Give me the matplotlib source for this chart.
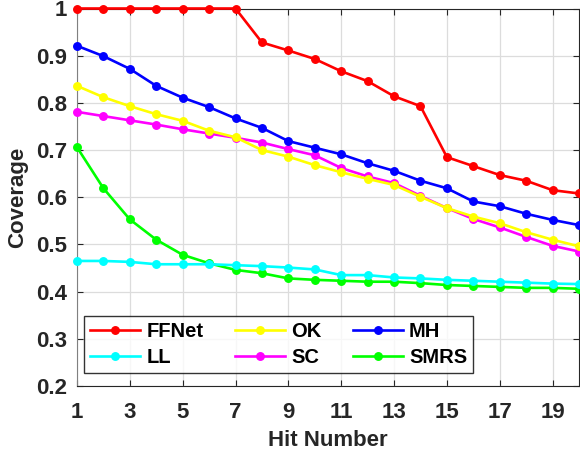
import matplotlib
matplotlib.use("Agg")
import matplotlib.pyplot as plt

plt.rcParams['font.family'] = ['Liberation Sans', 'DejaVu Sans']

hits = list(range(1, 21))
ffnet = [1.0, 1.0, 1.0, 1.0, 1.0, 1.0, 1.0, 0.928, 0.911, 0.893,
         0.867, 0.846, 0.814, 0.793, 0.685, 0.666, 0.647, 0.635, 0.615, 0.608]
ok = [0.836, 0.812, 0.793, 0.776, 0.762, 0.741, 0.727, 0.700, 0.686, 0.668,
      0.653, 0.639, 0.626, 0.601, 0.577, 0.559, 0.545, 0.526, 0.510, 0.496]
mh = [0.921, 0.899, 0.872, 0.836, 0.811, 0.791, 0.767, 0.747, 0.719, 0.705,
      0.691, 0.672, 0.656, 0.635, 0.619, 0.591, 0.581, 0.565, 0.552, 0.541]
ll = [0.465, 0.465, 0.463, 0.458, 0.458, 0.458, 0.456, 0.454, 0.451, 0.447,
      0.435, 0.435, 0.430, 0.428, 0.425, 0.423, 0.421, 0.419, 0.417, 0.416]
sc = [0.781, 0.772, 0.763, 0.754, 0.744, 0.735, 0.726, 0.716, 0.702, 0.689,
      0.662, 0.644, 0.630, 0.603, 0.577, 0.554, 0.536, 0.516, 0.497, 0.485]
smrs = [0.706, 0.619, 0.553, 0.510, 0.478, 0.460, 0.446, 0.439, 0.428, 0.425,
        0.423, 0.421, 0.421, 0.418, 0.414, 0.412, 0.410, 0.408, 0.408, 0.406]

series = [("FFNet", ffnet, "#FF0000"), ("LL", ll, "#00FFFF"),
          ("OK", ok, "#FFFF00"), ("SC", sc, "#FF00FF"),
          ("MH", mh, "#0000FF"), ("SMRS", smrs, "#00FF00")]
draw_order = ["SMRS", "LL", "SC", "OK", "MH", "FFNet"]

xticks = [1, 3, 5, 7, 9, 11, 13, 15, 17, 19]
yticks = [0.2, 0.3, 0.4, 0.5, 0.6, 0.7, 0.8, 0.9, 1.0]
ytick_labels = ["0.2", "0.3", "0.4", "0.5", "0.6", "0.7", "0.8", "0.9", "1"]

fig = plt.figure(figsize=(5.8, 4.57), dpi=100)
ax = fig.add_axes([77 / 580, 1 - 386 / 457, 502 / 580, (386 - 8.5) / 457])

lines = {}
for name, vals, col in series:
    z = 3 + draw_order.index(name) * 0.1
    ln, = ax.plot(hits, vals, color=col, lw=1.9, marker='o', ms=5.4,
                  label=name, zorder=z, clip_on=False)
    lines[name] = ln

ax.set_xlim(1, 20)
ax.set_ylim(0.2, 1.0)
ax.set_xticks(xticks)
ax.set_xticklabels([str(t) for t in xticks])
ax.set_yticks(yticks)
ax.set_yticklabels(ytick_labels)

ax.grid(True, color='#dcdcdc', lw=0.9, zorder=0)
ax.set_axisbelow(True)
ax.tick_params(direction='in', length=4, width=0.8, top=True, right=True,
               labelsize=16, colors='#262626')
ax.tick_params(axis='x', pad=11.5)
ax.tick_params(axis='y', pad=7)
for lab in ax.get_xticklabels() + ax.get_yticklabels():
    lab.set_fontweight('bold')
for s in ax.spines.values():
    s.set_color('#262626')
    s.set_linewidth(0.8)
ax.spines['left'].set_color('#808080')

ax.set_xlabel("Hit Number", fontsize=16, fontweight='bold', color='#262626', labelpad=5)
ax.set_ylabel("Coverage", fontsize=16, fontweight='bold', color='#262626', labelpad=6)

leg = ax.legend(handles=[lines[n] for n, _, _ in series], ncol=3,
                loc='lower left', bbox_to_anchor=(0.014, 0.034, 0.775, 0.151),
                mode='expand', prop={'weight': 'bold', 'size': 14.5},
                handlelength=2.5, handletextpad=0.3, borderpad=0.3,
                labelspacing=0.35, columnspacing=1.0, frameon=True, fancybox=False,
                borderaxespad=0)
leg.get_frame().set_edgecolor('black')
leg.get_frame().set_linewidth(1.0)
leg.set_zorder(10)

fig.savefig("out.png", dpi=100)
